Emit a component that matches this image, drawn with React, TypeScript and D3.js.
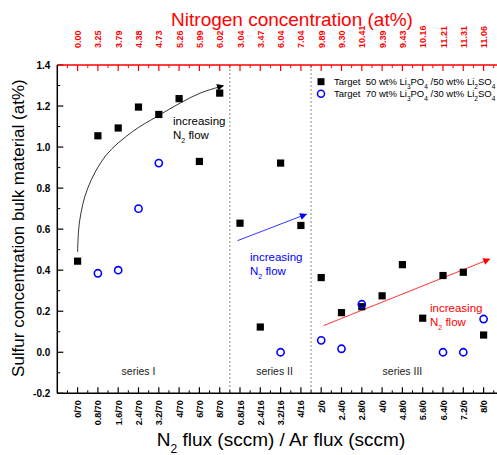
import React from "react";
import * as d3 from "d3";

// N2 flux / Ar flux settings (sccm), one per deposition
const categories = [
  "0/70", "0.8/70", "1.6/70", "2.4/70", "3.2/70", "4/70", "6/70", "8/70",
  "0.8/16", "2.4/16", "3.2/16", "4/16",
  "2/0", "2.4/0", "2.8/0", "4/0", "4.8/0", "5.6/0", "6.4/0", "7.2/0", "8/0",
];

// Nitrogen concentration measured for each deposition (at%)
const nitrogenLabels = [
  "0.00", "3.25", "3.79", "4.38", "4.73", "5.26", "5.99", "6.02",
  "3.04", "3.47", "6.04", "7.04",
  "9.89", "9.30", "10.41", "9.39", "9.43", "10.16", "11.21", "11.31", "11.06",
];

// Sulfur concentration, target 50 wt% Li3PO4 / 50 wt% Li2SO4
const sulfur5050: (number | null)[] = [
  0.444, 1.055, 1.093, 1.195, 1.159, 1.236, 0.93, 1.263,
  0.629, 0.123, 0.922, 0.618,
  0.364, 0.193, 0.222, 0.275, 0.427, 0.166, 0.374, 0.39, 0.084,
];

// Sulfur concentration, target 70 wt% Li3PO4 / 30 wt% Li2SO4
const sulfur7030: (number | null)[] = [
  null, 0.385, 0.4, 0.7, 0.922, null, null, null,
  null, null, 0.0, null,
  0.058, 0.017, 0.234, null, null, null, 0.0, 0.0, 0.162,
];

const yTicks = [-0.2, 0, 0.2, 0.4, 0.6, 0.8, 1.0, 1.2, 1.4];
const yMinorTicks = d3.range(-0.1, 1.4, 0.2);
const seriesBreaks = [7.5, 11.5];
const seriesNames = [
  { label: "series I", at: 3 },
  { label: "series II", at: 9.7 },
  { label: "series III", at: 16 },
];

// trend guides in (category index, value) space
const trendI: [number, number][] = [
  [0, 0.489], [0.1, 0.64], [0.5, 0.8], [1.4, 0.96], [2.7, 1.075],
  [3.91, 1.149], [5.06, 1.215], [6.04, 1.263], [7.18, 1.299],
];
const trendII: [number, number][] = [[7.88, 0.544], [11.27, 0.673]];
const trendIII: [number, number][] = [[12.12, 0.13], [20.3, 0.454]];

const FONT = "'Liberation Sans', Arial, sans-serif";
const RED = "#ff0000";
const BLUE = "#0000ff";

export default function App() {
  const left = 57.3;
  const step = 20.3;
  const x = d3.scaleLinear().domain([-1, 21]).range([left, left + 22 * step]);
  const y = d3.scaleLinear().domain([-0.2, 1.4]).range([393.3, 65]);
  const x0 = x(-1);
  const x1 = 497;
  const yTop = y(1.4);
  const yBot = y(-0.2);

  const idx = d3.range(categories.length);
  const halfSteps = d3.range(-0.5, 21, 1);

  const curve = d3
    .line<[number, number]>()
    .x((d) => x(d[0]))
    .y((d) => y(d[1]))
    .curve(d3.curveCatmullRom.alpha(0.5));
  const straight = d3
    .line<[number, number]>()
    .x((d) => x(d[0]))
    .y((d) => y(d[1]));

  const sub = (t: string, size = 7) => (
    <tspan baselineShift="sub" fontSize={size}>{t}</tspan>
  );

  const legendRows = [
    { kind: "square", ratio: ["50", "50"] },
    { kind: "circle", ratio: ["70", "30"] },
  ];

  return (
    <svg
      width={497}
      height={455}
      style={{ position: "absolute", left: 0, top: 0, background: "#fff" }}
      fontFamily={FONT}
    >
      <defs>
        {[
          ["arrK", "#000"],
          ["arrB", BLUE],
          ["arrR", RED],
        ].map(([id, c]) => (
          <marker
            key={id}
            id={id}
            viewBox="0 0 10 10"
            refX="9"
            refY="5"
            markerWidth="9"
            markerHeight="7"
            markerUnits="userSpaceOnUse"
            orient="auto"
          >
            <path d="M0,0 L10,5 L0,10 z" fill={c} />
          </marker>
        ))}
      </defs>

      {/* series separators */}
      {seriesBreaks.map((b) => (
        <line
          key={b}
          x1={x(b)}
          x2={x(b)}
          y1={yTop}
          y2={yBot}
          stroke="#888"
          strokeWidth={1}
          strokeDasharray="2,2"
        />
      ))}

      {/* left axis */}
      <line x1={x0} x2={x0} y1={yTop} y2={yBot} stroke="#000" strokeWidth={1.5} />
      {yTicks.map((t) => (
        <g key={t}>
          <line x1={x0} x2={x0 + 6} y1={y(t)} y2={y(t)} stroke="#000" strokeWidth={1.2} />
          <text
            x={x0 - 7}
            y={y(t)}
            dy="0.35em"
            textAnchor="end"
            fontSize="10"
            fontWeight="bold"
          >
            {t.toFixed(1)}
          </text>
        </g>
      ))}
      {yMinorTicks.map((t) => (
        <line key={t} x1={x0} x2={x0 + 3} y1={y(t)} y2={y(t)} stroke="#000" strokeWidth={1} />
      ))}

      {/* bottom axis */}
      <line x1={x0} x2={x1} y1={yBot} y2={yBot} stroke="#000" strokeWidth={1.5} />
      {idx.map((i) => (
        <g key={i}>
          <line x1={x(i)} x2={x(i)} y1={yBot} y2={yBot - 6} stroke="#000" strokeWidth={1.2} />
          <text
            transform={`translate(${x(i) + 3.5},${yBot + 7}) rotate(-90)`}
            textAnchor="end"
            fontSize="9"
            fontWeight="bold"
          >
            {categories[i]}
          </text>
        </g>
      ))}
      {halfSteps.map((h) => (
        <line key={h} x1={x(h)} x2={x(h)} y1={yBot} y2={yBot - 3} stroke="#000" strokeWidth={1} />
      ))}

      {/* top axis: nitrogen concentration */}
      <line x1={x0} x2={x1} y1={yTop} y2={yTop} stroke={RED} strokeWidth={1.5} />
      {idx.map((i) => (
        <g key={i}>
          <line x1={x(i)} x2={x(i)} y1={yTop} y2={yTop + 6} stroke={RED} strokeWidth={1.2} />
          <text
            transform={`translate(${x(i) + 3.5},${yTop - 17}) rotate(-90)`}
            textAnchor="start"
            fontSize="9"
            fontWeight="bold"
            fill={RED}
          >
            {nitrogenLabels[i]}
          </text>
        </g>
      ))}
      {halfSteps.map((h) => (
        <line key={h} x1={x(h)} x2={x(h)} y1={yTop} y2={yTop + 3} stroke={RED} strokeWidth={1} />
      ))}

      {/* axis titles */}
      <text x={292} y={26} textAnchor="middle" fontSize="19" fill={RED}>
        Nitrogen concentration (at%)
      </text>
      <text x={281} y={446} textAnchor="middle" fontSize="19">
        N{sub("2", 12)} flux (sccm) / Ar flux (sccm)
      </text>
      <text
        transform={`translate(24,${(yTop + yBot) / 2 - 1}) rotate(-90)`}
        textAnchor="middle"
        fontSize="17"
      >
        Sulfur concentration bulk material (at%)
      </text>

      {/* trend guides */}
      <path d={curve(trendI) ?? ""} fill="none" stroke="#000" strokeWidth={0.8} markerEnd="url(#arrK)" />
      <path d={straight(trendII) ?? ""} fill="none" stroke={BLUE} strokeWidth={0.8} markerEnd="url(#arrB)" />
      <path d={straight(trendIII) ?? ""} fill="none" stroke={RED} strokeWidth={0.8} markerEnd="url(#arrR)" />

      {/* trend captions */}
      {[
        { x: 173, y: 125, c: "#000" },
        { x: 250, y: 261, c: BLUE },
        { x: 430, y: 312, c: RED },
      ].map((p, k) => (
        <text key={k} x={p.x} y={p.y} fontSize="11.5" fill={p.c}>
          <tspan x={p.x}>increasing</tspan>
          <tspan x={p.x} dy="13.5">
            N{sub("2")} flow
          </tspan>
        </text>
      ))}

      {/* series names */}
      {seriesNames.map((s) => (
        <text key={s.label} x={x(s.at)} y={375} textAnchor="middle" fontSize="10.5" fill="#222">
          {s.label}
        </text>
      ))}

      {/* data: 50/50 target */}
      {sulfur5050.map((v, i) =>
        v == null ? null : (
          <rect key={i} x={x(i) - 3.6} y={y(v) - 3.6} width={7.2} height={7.2} fill="#000" />
        )
      )}
      {/* data: 70/30 target */}
      {sulfur7030.map((v, i) =>
        v == null ? null : (
          <circle key={i} cx={x(i)} cy={y(v)} r={3.6} fill="none" stroke={BLUE} strokeWidth={1.6} />
        )
      )}

      {/* legend */}
      {legendRows.map((r, k) => {
        const ly = 81.7 + k * 12;
        return (
          <g key={k}>
            {r.kind === "square" ? (
              <rect x={321 - 3.5} y={ly - 3.5} width={7} height={7} fill="#000" />
            ) : (
              <circle cx={321} cy={ly} r={3.5} fill="none" stroke={BLUE} strokeWidth={1.5} />
            )}
            <text x={334} y={ly} dy="0.35em" fontSize="9.5">
              Target{"\u00a0\u00a0"}{r.ratio[0]} wt% Li{sub("3", 6.5)}PO{sub("4", 6.5)} /{r.ratio[1]} wt% Li{sub("2", 6.5)}SO{sub("4", 6.5)}
            </text>
          </g>
        );
      })}
    </svg>
  );
}
